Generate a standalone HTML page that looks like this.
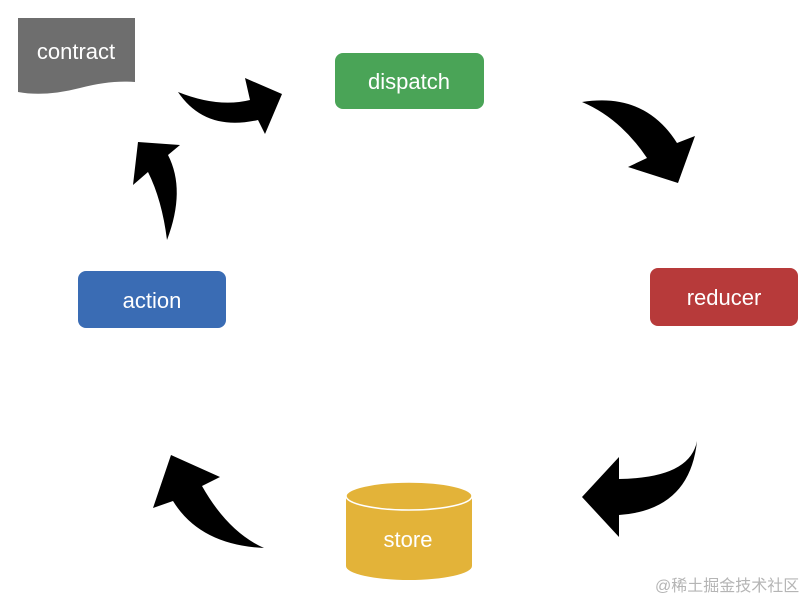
<!DOCTYPE html>
<html><head><meta charset="utf-8"><style>
body{margin:0;background:#fff;width:812px;height:602px;overflow:hidden}
svg text{font-family:"Liberation Sans",sans-serif;fill:#fff}
</style></head><body>
<svg width="812" height="602" viewBox="0 0 812 602">
<path d="M18,18 H135 V82 Q110,80 80,88 Q45,97 18,92 Z" fill="#6e6e6e"/>
<text x="76" y="59" font-size="22" text-anchor="middle">contract</text>
<rect x="335" y="53" width="149" height="56" rx="8" fill="#4aa457"/>
<text x="409" y="89" font-size="22" text-anchor="middle">dispatch</text>
<rect x="650" y="268" width="148" height="58" rx="8" fill="#b73a3a"/>
<text x="724" y="305" font-size="22" text-anchor="middle">reducer</text>
<rect x="78" y="271" width="148" height="57" rx="8" fill="#3a6cb4"/>
<text x="152" y="308" font-size="22" text-anchor="middle">action</text>
<path d="M346,496 V566 A63,14 0 0 0 472,566 V496 Z" fill="#e3b339"/>
<ellipse cx="409" cy="496" rx="63" ry="14" fill="#e3b339" stroke="#fff" stroke-width="1.5"/>
<text x="408" y="547" font-size="22" text-anchor="middle">store</text>
<g fill="#000">
<path d="M178,92 Q218,108 250,100 L245,78 L282,94 L265,134 L258,120 Q205,132 178,92 Z"/>
<path d="M167,240 Q186,190 168,155 L180,145 L138,142 L133,185 L148,172 Q162,200 167,240 Z"/>
<path d="M582,102 Q645,92 677,143 L695,136 L678,183 L628,167 L647,158 Q620,118 582,102 Z"/>
<path d="M697,441 Q690,478 619,479 L619,457 L582,497 L619,537 L619,515 Q690,510 697,441 Z"/>
<path d="M264,548 Q200,545 173,501 L153,508 L171,455 L220,477 L202,486 Q228,532 264,548 Z"/>
</g>
<text x="655" y="591" font-size="16" style="fill:#b5b5b5;font-family:'Liberation Sans','Noto Sans CJK SC',sans-serif">@稀土掘金技术社区</text>
</svg>
</body></html>
